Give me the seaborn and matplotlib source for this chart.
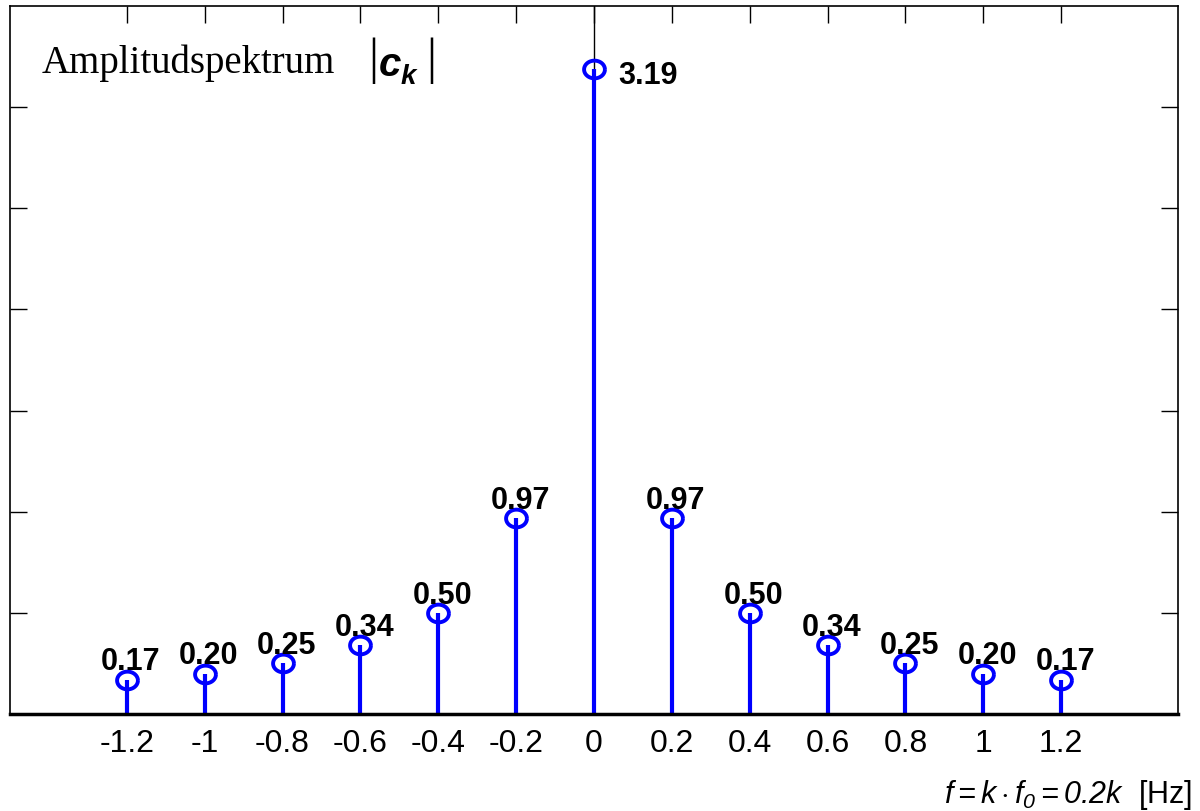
import numpy as np
import matplotlib
matplotlib.use("Agg")
import matplotlib.pyplot as plt
from matplotlib.path import Path
import seaborn as sns

# Amplitude spectrum |c_k| at f = 0.2k Hz
freqs = [-1.2, -1.0, -0.8, -0.6, -0.4, -0.2, 0.0, 0.2, 0.4, 0.6, 0.8, 1.0, 1.2]
amps = [0.17, 0.20, 0.25, 0.34, 0.50, 0.97, 3.19, 0.97, 0.50, 0.34, 0.25, 0.20, 0.17]
tick_labels = ["-1.2", "-1", "-0.8", "-0.6", "-0.4", "-0.2", "0",
               "0.2", "0.4", "0.6", "0.8", "1", "1.2"]
y_ticks = [0.5, 1.0, 1.5, 2.0, 2.5, 3.0]

sns.set_style("white")
plt.rcParams["font.family"] = ["Liberation Sans", "DejaVu Sans"]
plt.rcParams["text.color"] = "black"
plt.rcParams["xtick.color"] = "black"
plt.rcParams["ytick.color"] = "black"
plt.rcParams["mathtext.fontset"] = "custom"
plt.rcParams["mathtext.it"] = "Liberation Sans:italic"
plt.rcParams["mathtext.rm"] = "Liberation Sans:italic"

W, H = 1200, 812
fig = plt.figure(figsize=(12, 8.12), dpi=100)
ax = fig.add_axes([10 / W, 1 - 715 / H, 1168 / W, 708 / H])

# slightly flattened ring marker, as in the reference
t = np.linspace(0, 2 * np.pi, 64)
ring = Path(np.column_stack([np.cos(t), 0.85 * np.sin(t)]))

# thin vertical line through the origin
ax.axvline(0, color="black", lw=1.0, zorder=1)

# stems and hollow markers
ax.vlines(freqs, 0, amps, color="blue", lw=3, zorder=2)
ax.plot(freqs, amps, ls="none", marker=ring, ms=15, mfc="none", mec="blue",
        mew=2.8, zorder=3)

# value labels
for f, a in zip(freqs, amps):
    if f == 0:
        ax.text(f + 0.063, a - 0.03, f"{a:.2f}", ha="left", va="center",
                fontsize=22, fontweight="bold")
    else:
        ax.text(f + 0.01, a + 0.05, f"{a:.2f}", ha="center", va="baseline",
                fontsize=22, fontweight="bold")

ax.set_xlim(-1.5, 1.5)
ax.set_ylim(0, 3.5)
ax.set_xticks(freqs)
ax.set_xticklabels(tick_labels, fontsize=23)
ax.set_yticks(y_ticks)
ax.set_yticklabels([])
ax.tick_params(axis="both", direction="in", length=12, width=1,
               top=True, right=True, bottom=True, left=True, pad=10)

for side in ["top", "left", "right"]:
    ax.spines[side].set_linewidth(1.2)
    ax.spines[side].set_color("black")
ax.spines["bottom"].set_linewidth(2.5)
ax.spines["bottom"].set_color("black")
ax.spines["bottom"].set_zorder(4)


def fx(px):
    return px / W


def fy(py):
    return 1 - py / H


# title inside the axes: Amplitudspektrum |c_k|
fig.text(fx(42), fy(73), "Amplitudspektrum", family="Liberation Serif",
         fontsize=28, ha="left", va="baseline")
fig.text(fx(373), fy(61), "|", family="Liberation Serif", fontsize=36,
         ha="center", va="center")
fig.text(fx(379), fy(76), "c", fontsize=29, fontweight="bold",
         style="italic", ha="left", va="baseline")
fig.text(fx(401), fy(84), "k", fontsize=20, fontweight="bold",
         style="italic", ha="left", va="baseline")
fig.text(fx(431), fy(61), "|", family="Liberation Serif", fontsize=36,
         ha="center", va="center")

# x label at the bottom right
fig.text(fx(1192), fy(803), r"$f = k\cdot f_0 = 0.2k$  [Hz]",
         ha="right", va="baseline", fontsize=22)

fig.savefig("out.png", dpi=100)
